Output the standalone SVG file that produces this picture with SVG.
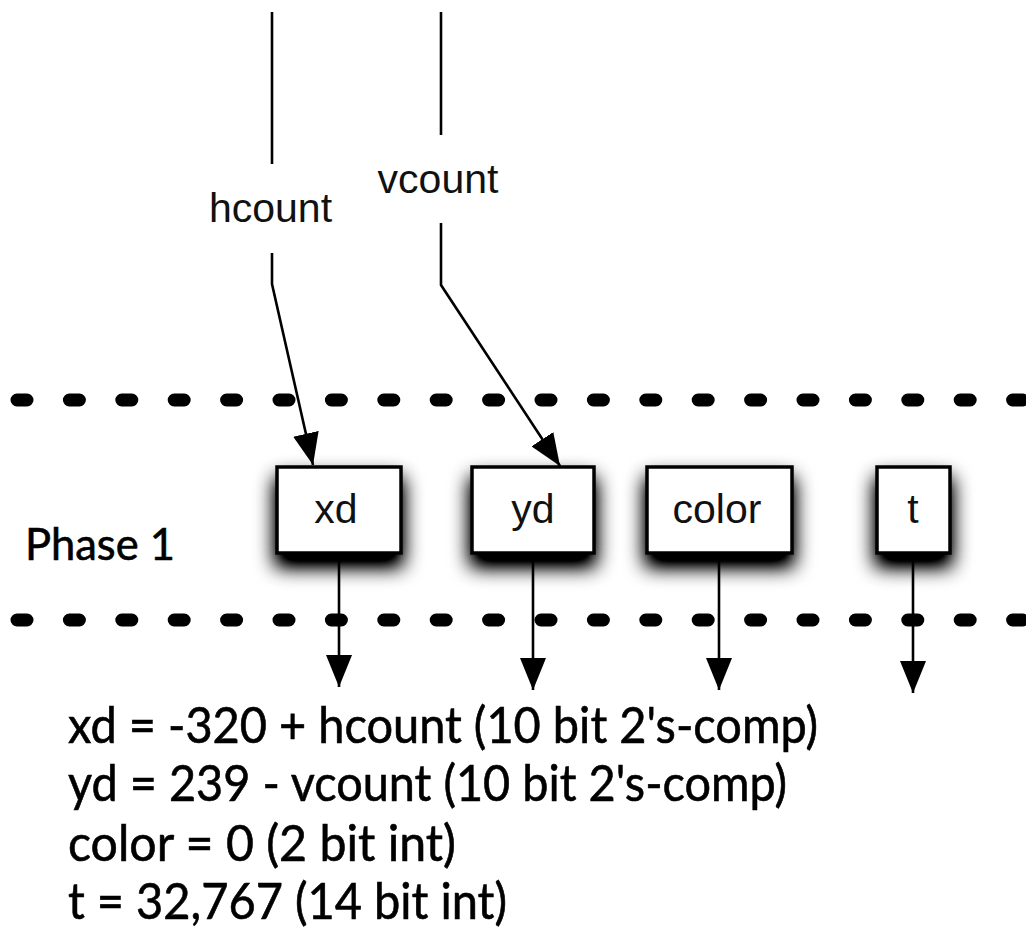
<svg xmlns="http://www.w3.org/2000/svg" width="1026" height="930" viewBox="0 0 1026 930">
<style>
.wire{fill:none;stroke:#000;stroke-width:2.6}
.dots{fill:none;stroke:#000;stroke-width:13;stroke-dasharray:10 42.4;stroke-linecap:round}
.box{fill:#fff;stroke:#000;stroke-width:3.5}
.lbl{font-family:"Liberation Sans",Arial,sans-serif;font-size:41px;fill:#111;text-anchor:middle}
.fut{font-family:Lato,"Liberation Sans",sans-serif;fill:#000;stroke:#000;stroke-width:0.6}
</style>
<defs>
<marker id="ah" markerUnits="userSpaceOnUse" markerWidth="32" markerHeight="26" refX="32" refY="13" orient="auto">
<path d="M0,0 L32,13 L0,26 z" fill="#000"/>
</marker>
<filter id="sh" x="-50%" y="-50%" width="200%" height="230%">
<feGaussianBlur in="SourceAlpha" stdDeviation="10"/>
<feOffset dx="0" dy="12" result="b"/>
<feComponentTransfer in="b" result="s"><feFuncA type="linear" slope="1.4"/></feComponentTransfer>
<feMerge><feMergeNode in="s"/><feMergeNode in="SourceGraphic"/></feMerge>
</filter>
</defs>
<rect width="1026" height="930" fill="#fff"/>
<g id="phase-lines">
<path class="dots" d="M17,400 H1030"/>
<path class="dots" d="M17,620 H1030"/>
</g>
<text id="phase1" class="fut" x="25" y="560" font-size="44" textLength="150" lengthAdjust="spacingAndGlyphs">Phase 1</text>
<g id="connectors">
<path class="wire" d="M272,12 V164"/>
<path class="wire" d="M272,253 V284 L313,465" marker-end="url(#ah)"/>
<path class="wire" d="M441,12 V135"/>
<path class="wire" d="M441,223 V285 L560,466" marker-end="url(#ah)"/>
<path class="wire" d="M339,553 V687" marker-end="url(#ah)"/>
<path class="wire" d="M533,553 V690" marker-end="url(#ah)"/>
<path class="wire" d="M719,553 V690" marker-end="url(#ah)"/>
<path class="wire" d="M913,553 V693" marker-end="url(#ah)"/>
<text class="lbl" x="270.5" y="222">hcount</text>
<text class="lbl" x="438" y="193">vcount</text>
</g>
<g id="node-xd">
<rect class="box" x="277" y="467" width="124" height="86" filter="url(#sh)"/>
<text class="lbl" x="336" y="523">xd</text>
</g>
<g id="node-yd">
<rect class="box" x="472" y="467" width="122" height="86" filter="url(#sh)"/>
<text class="lbl" x="533" y="523">yd</text>
</g>
<g id="node-color">
<rect class="box" x="647" y="467" width="145" height="86" filter="url(#sh)"/>
<text class="lbl" x="717" y="523">color</text>
</g>
<g id="node-t">
<rect class="box" x="877" y="467" width="73" height="86" filter="url(#sh)"/>
<text class="lbl" x="913" y="523">t</text>
</g>
<g id="notes" class="fut" font-size="50">
<text x="68" y="743" textLength="750" lengthAdjust="spacingAndGlyphs">xd = -320 + hcount (10 bit 2's-comp)</text>
<text x="68" y="801" textLength="719" lengthAdjust="spacingAndGlyphs">yd = 239 - vcount (10 bit 2's-comp)</text>
<text x="68" y="861" textLength="388" lengthAdjust="spacingAndGlyphs">color = 0 (2 bit int)</text>
<text x="68" y="919" textLength="439" lengthAdjust="spacingAndGlyphs">t = 32,767 (14 bit int)</text>
</g>
</svg>
